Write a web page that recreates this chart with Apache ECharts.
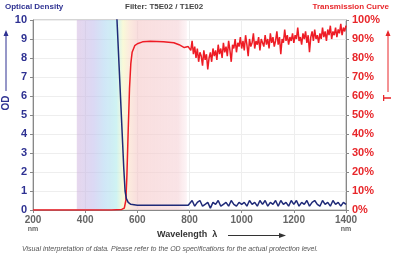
<!DOCTYPE html>
<html>
<head>
<meta charset="utf-8">
<script src="https://cdn.jsdelivr.net/npm/echarts@6/dist/echarts.min.js"></script>
<style>
    html, body { margin: 0; padding: 0; background: #fff; }
    #chart { width: 394px; height: 258px; }
</style>
</head>
<body>
<div id="chart"></div>
<script>
// x ticks (nm)
var xTicks = [200, 400, 600, 800, 1000, 1200, 1400];
// OD ticks / transmission ticks
var odTicks = [0, 1, 2, 3, 4, 5, 6, 7, 8, 9, 10];
var tTicks = ['0%', '10%', '20%', '30%', '40%', '50%', '60%', '70%', '80%', '90%', '100%'];

// transmission curve, smooth part (nm, %)
var tSmooth = [
    [200, 0], [300, 0], [400, 0], [500, 0], [540, 0.3], [550, 1], [556, 5], [560, 18],
    [565, 42], [570, 64], [575, 77], [580, 83], [590, 86.5], [600, 87.5], [620, 88.5],
    [650, 88.8], [700, 88.5], [740, 88], [760, 87], [780, 85.5], [795, 86]
];
// transmission, noisy part from 800 nm, every 5 nm
var tNoiseStart = 800;
var tNoiseStep = 5;
var tNoise = [
    87, 84, 89, 82, 86, 80, 85, 78, 83, 81, 76, 84, 79, 82, 74, 80, 83, 78, 85, 81,
    84, 79, 87, 82, 85, 80, 88, 83, 86, 81, 89, 84, 78, 87, 85, 90, 83, 88, 86, 91,
    85, 89, 84, 92, 87, 81, 90, 86, 88, 93, 85, 89, 87, 91, 84, 90, 88, 86, 92, 87,
    90, 85, 93, 88, 91, 86, 89, 94, 87, 91, 82, 90, 88, 95, 89, 92, 87, 91, 89, 93,
    88, 92, 90, 96, 89, 91, 87, 93, 90, 94, 88, 92, 83, 91, 94, 89, 95, 90, 92, 88,
    93, 90, 96, 91, 94, 89, 95, 92, 97, 90, 94, 92, 96, 91, 95, 93, 98, 92, 96, 94,
    97
];

// optical density, smooth part (nm, OD)
var odSmooth = [
    [505, 12], [515, 10.8], [522, 10], [530, 7.6], [540, 4.6], [548, 2.2], [553, 1.0],
    [558, 0.6], [565, 0.4], [575, 0.3], [600, 0.25], [700, 0.25], [795, 0.25]
];
// optical density, noisy part from 800 nm, every 10 nm
var odNoiseStart = 800;
var odNoiseStep = 10;
var odNoise = [
    0.3, 0.5, 0.2, 0.4, 0.5, 0.2, 0.3, 0.4, 0.1, 0.4, 0.3, 0.5, 0.2, 0.3, 0.4, 0.2, 0.5, 0.3, 0.2, 0.4,
    0.3, 0.4, 0.2, 0.5, 0.3, 0.4, 0.2, 0.5, 0.3, 0.5, 0.2, 0.4, 0.3, 0.5, 0.2, 0.5, 0.3, 0.4, 0.2, 0.5,
    0.3, 0.5, 0.2, 0.4, 0.3, 0.5, 0.2, 0.4, 0.5, 0.3, 0.2, 0.5, 0.3, 0.4, 0.2, 0.5, 0.3, 0.4, 0.2, 0.4, 0.3
];

// visible spectrum band (nm)
var bandStart = 368;
var bandEnd = 790;

var tData = tSmooth.slice();
for (var i = 0; i < tNoise.length; i++) {
    tData.push([tNoiseStart + i * tNoiseStep, tNoise[i]]);
}
var odData = odSmooth.slice();
for (var j = 0; j < odNoise.length; j++) {
    odData.push([odNoiseStart + j * odNoiseStep, odNoise[j]]);
}

var chart = echarts.init(document.getElementById('chart'));
var font = 'Liberation Sans, Arial, sans-serif';

var option = {
    animation: false,
    grid: {
        left: 33, right: 48, top: 20, bottom: 48,
        outerBoundsMode: 'none',
        containLabel: false,
        show: true, borderColor: '#aaa', borderWidth: 1
    },
    xAxis: {
        type: 'value',
        min: 200, max: 1400, interval: 200,
        axisLine: { show: true, lineStyle: { color: '#888' } },
        axisTick: { show: true, length: 3, lineStyle: { color: '#888' } },
        splitLine: { show: true, lineStyle: { color: '#eee' } },
        axisLabel: {
            margin: 6,
            color: '#666',
            fontFamily: font,
            fontWeight: 'bold',
            fontSize: 10,
            lineHeight: 9,
            formatter: function (v) {
                if (v === 200 || v === 1400) return v + '\n{u|nm}';
                return '' + v;
            },
            rich: { u: { fontSize: 7, fontWeight: 'bold', color: '#666', fontFamily: font } }
        }
    },
    yAxis: [
        {
            type: 'value',
            min: 0, max: 10, interval: 1,
            axisLine: { show: true, lineStyle: { color: '#888' } },
            axisTick: { show: true, length: 3, lineStyle: { color: '#888' } },
            splitLine: { show: true, lineStyle: { color: '#eee' } },
            axisLabel: {
                color: '#2e3192', fontWeight: 'bold', fontSize: 11, fontFamily: font, margin: 6,
                formatter: function (v) { return odTicks[v]; }
            }
        },
        {
            type: 'value',
            min: 0, max: 100, interval: 10,
            axisLine: { show: true, lineStyle: { color: '#888' } },
            axisTick: { show: true, length: 3, lineStyle: { color: '#888' } },
            splitLine: { show: false },
            axisLabel: {
                color: '#e8262a', fontWeight: 'bold', fontSize: 11, fontFamily: font, margin: 6,
                formatter: function (v) { return tTicks[Math.round(v / 10)]; }
            }
        }
    ],
    graphic: [
        { type: 'text', left: 5, top: 3, style: { text: 'Optical Density', fill: '#2e3192', font: 'bold 8px ' + font } },
        { type: 'text', left: 125, top: 3, style: { text: 'Filter: T5E02 / T1E02', fill: '#444', font: 'bold 8px ' + font } },
        { type: 'text', right: 5, top: 3, style: { text: 'Transmission Curve', fill: '#e8262a', font: 'bold 8px ' + font } },
        // OD axis name + arrow
        { type: 'line', shape: { x1: 6, y1: 32, x2: 6, y2: 91 }, style: { stroke: '#2e3192', lineWidth: 1 } },
        { type: 'polygon', shape: { points: [[3.5, 36], [8.5, 36], [6, 30]] }, style: { fill: '#2e3192' } },
        { type: 'text', x: 6, y: 103, rotation: Math.PI / 2, style: { text: 'OD', fill: '#2e3192', font: 'bold 10px ' + font, align: 'center', verticalAlign: 'middle' } },
        // T axis name + arrow
        { type: 'line', shape: { x1: 388, y1: 32, x2: 388, y2: 92 }, style: { stroke: '#e8262a', lineWidth: 1 } },
        { type: 'polygon', shape: { points: [[385.5, 36], [390.5, 36], [388, 30]] }, style: { fill: '#e8262a' } },
        { type: 'text', x: 388, y: 98, rotation: Math.PI / 2, style: { text: 'T', fill: '#e8262a', font: 'bold 10px ' + font, align: 'center', verticalAlign: 'middle' } },
        // wavelength label + arrow
        { type: 'text', left: 157, top: 230, style: { text: 'Wavelength  \u03bb', fill: '#333', font: 'bold 9px ' + font } },
        { type: 'line', shape: { x1: 228, y1: 235.5, x2: 282, y2: 235.5 }, style: { stroke: '#333', lineWidth: 1 } },
        { type: 'polygon', shape: { points: [[279, 233], [279, 238], [286, 235.5]] }, style: { fill: '#333' } },
        // footnote
        { type: 'text', left: 22, top: 246, style: { text: 'Visual interpretation of data. Please refer to the OD specifications for the actual protection level.', fill: '#555', font: 'italic 7px ' + font } }
    ],
    series: [
        {
            name: 'Transmission',
            type: 'line',
            yAxisIndex: 1,
            showSymbol: false,
            data: tData,
            lineStyle: { color: '#ee1c25', width: 1.5 },
            z: 3
        },
        {
            name: 'OD',
            type: 'line',
            yAxisIndex: 0,
            showSymbol: false,
            clip: true,
            data: odData,
            lineStyle: { color: '#1f2a78', width: 1.5 },
            z: 4,
            markArea: {
                silent: true,
                z: 1,
                data: [[
                    {
                        xAxis: bandStart,
                        itemStyle: {
                            color: new echarts.graphic.LinearGradient(0, 0, 1, 0, [
                                { offset: 0, color: 'rgba(205,175,220,0.5)' },
                                { offset: 0.15, color: 'rgba(190,185,235,0.55)' },
                                { offset: 0.25, color: 'rgba(170,210,240,0.55)' },
                                { offset: 0.36, color: 'rgba(175,235,235,0.6)' },
                                { offset: 0.42, color: 'rgba(245,245,190,0.6)' },
                                { offset: 0.48, color: 'rgba(250,220,200,0.6)' },
                                { offset: 0.55, color: 'rgba(245,200,200,0.6)' },
                                { offset: 0.92, color: 'rgba(245,205,210,0.55)' },
                                { offset: 1, color: 'rgba(250,225,230,0.35)' }
                            ])
                        }
                    },
                    { xAxis: bandEnd }
                ]]
            }
        }
    ]
};
chart.setOption(option);

window.addEventListener('resize', function () {
    chart.resize();
});
</script>
</body>
</html>
